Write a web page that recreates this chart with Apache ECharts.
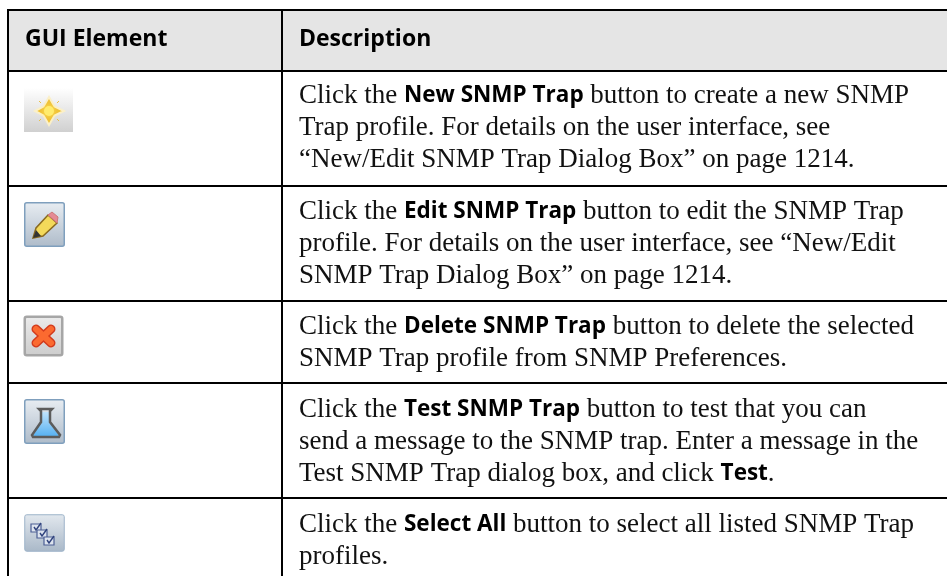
<!DOCTYPE html>
<html>
<head>
<meta charset="utf-8">
<style>html,body{margin:0;background:#fff}#main{width:947px;height:576px}</style>
<script src="https://cdn.jsdelivr.net/npm/echarts@6/dist/echarts.min.js"></script>
</head>
<body>
<div id="main"></div>
<script>
var headers = ['GUI Element', 'Description'];
var rowLines = [
	['Click the **New SNMP Trap** button to create a new SNMP', 'Trap profile. For details on the user interface, see', '“New/Edit SNMP Trap Dialog Box” on page 1214.'],
	['Click the **Edit SNMP Trap** button to edit the SNMP Trap', 'profile. For details on the user interface, see “New/Edit', 'SNMP Trap Dialog Box” on page 1214.'],
	['Click the **Delete SNMP Trap** button to delete the selected', 'SNMP Trap profile from SNMP Preferences.'],
	['Click the **Test SNMP Trap** button to test that you can', 'send a message to the SNMP trap. Enter a message in the', 'Test SNMP Trap dialog box, and click **Test**.'],
	['Click the **Select All** button to select all listed SNMP Trap', 'profiles.']
];
var rowLineY = [71, 186, 301, 383, 498];
var firstTextY = [96, 212, 327, 410, 525];

var els = [];
function line(x1, y1, x2, y2) {
	els.push({type: 'line', shape: {x1: x1, y1: y1, x2: x2, y2: y2}, style: {stroke: '#000', lineWidth: 2}, z: 5});
}
function grad(a, b) {
	return new echarts.graphic.LinearGradient(0, 0, 0, 1, [{offset: 0, color: a}, {offset: 1, color: b}]);
}
function richLine(s) {
	return s.split('**').map(function(p, i) {
		if (!p) return '';
		return (i % 2 ? '{b|' : '{r|') + p + '}';
	}).join('');
}

// header band
els.push({type: 'rect', shape: {x: 8, y: 10, width: 939, height: 60}, style: {fill: '#e5e5e5'}});
line(8, 10, 947, 10);
rowLineY.forEach(function(y) { line(8, y, 947, y); });
line(8, 9, 8, 576);
line(282, 9, 282, 576);

els.push({type: 'text', x: 25, y: 39, style: {text: headers[0], font: 'bold 23px "Open Sans"', fill: '#000', verticalAlign: 'middle'}, z: 6});
els.push({type: 'text', x: 299, y: 39, style: {text: headers[1], font: 'bold 23px "Open Sans"', fill: '#000', verticalAlign: 'middle'}, z: 6});

rowLines.forEach(function(lines, r) {
	lines.forEach(function(s, i) {
		els.push({
			type: 'text', x: 299, y: firstTextY[r] + i * 32,
			style: {
				text: richLine(s), verticalAlign: 'middle',
				rich: {
					r: {font: '27px "Liberation Serif"', fill: '#111'},
					b: {font: 'bold 22.5px "Open Sans"', fill: '#000'}
				}
			}, z: 6
		});
	});
});

// icons
function button(x, y, w, h, border, top, bottom, lw) {
	els.push({type: 'rect', shape: {x: x + 0.75, y: y + 0.75, width: w - 1.5, height: h - 1.5, r: 2}, style: {fill: grad(top, bottom), stroke: border, lineWidth: lw || 1.5}});
}
// new: sparkle
els.push({type: 'rect', shape: {x: 24, y: 88, width: 49, height: 44}, style: {fill: grad('#ffffff', '#d0d0d0')}});
els.push({type: 'polygon', shape: {points: [[49, 97], [54.5, 106.5], [64, 111], [54.5, 115.5], [49, 125], [43.5, 115.5], [35, 111], [43.5, 106.5]]},
	style: {fill: '#f0c236', stroke: '#fbf0c8', lineWidth: 2}});
els.push({type: 'circle', shape: {cx: 49, cy: 111, r: 5}, style: {fill: '#ffec6e', shadowBlur: 4, shadowColor: '#ffe25a'}});
[[39, 101, 41, 103], [59, 101, 57, 103], [39, 121, 41, 119], [59, 121, 57, 119]].forEach(function(p) {
	els.push({type: 'line', shape: {x1: p[0], y1: p[1], x2: p[2], y2: p[3]}, style: {stroke: '#e8c048', lineWidth: 1}});
});
// edit: pencil
button(24, 202, 41, 45, '#7f9fbd', '#e8edf2', '#aebbc9');
els.push({type: 'polygon', shape: {points: [[48, 215], [57, 223], [43, 236], [33, 238], [36, 228]]}, style: {fill: '#f3d95a', stroke: '#8a6a20', lineWidth: 1.5}});
els.push({type: 'polygon', shape: {points: [[36, 230], [41, 236], [33, 238]]}, style: {fill: '#333'}});
els.push({type: 'polygon', shape: {points: [[48, 215], [52, 212], [58, 217], [57, 223]]}, style: {fill: '#e58a95', stroke: '#c77', lineWidth: 1}});
// delete: x
button(24, 316, 39, 40, '#a6a6a6', '#ececec', '#cccccc', 2.5);
[['#d23a1c', 9], ['#fb6a30', 6]].forEach(function(s) {
	els.push({type: 'line', shape: {x1: 36, y1: 329, x2: 51, y2: 343}, style: {stroke: s[0], lineWidth: s[1], lineCap: 'round'}});
	els.push({type: 'line', shape: {x1: 51, y1: 329, x2: 36, y2: 343}, style: {stroke: s[0], lineWidth: s[1], lineCap: 'round'}});
});
// test: flask
button(24, 399, 41, 45, '#7f9fbd', '#e8edf2', '#aebbc9');
els.push({type: 'polygon', shape: {points: [[41, 412], [50, 412], [50, 422], [59, 436], [33, 436], [41, 422]]}, style: {fill: grad('#bfe2fb', '#58b2f2')}});
els.push({type: 'polygon', shape: {points: [[39, 409], [52, 409], [50, 411], [50, 422], [60, 435], [59, 437], [33, 437], [32, 435], [41, 422], [41, 411]]}, style: {stroke: '#5c5c5c', lineWidth: 2.5, fill: null}});
// select all: three checkboxes
button(24, 514, 41, 38, '#9db3c9', '#e2e8ee', '#a9b8c8', 1);
[[31, 524], [37, 530], [44, 537]].forEach(function(p) {
	els.push({type: 'rect', shape: {x: p[0], y: p[1], width: 10, height: 8}, style: {fill: '#dde4ee', stroke: '#4c5f94', lineWidth: 1.2}});
	els.push({type: 'polyline', shape: {points: [[p[0] + 3, p[1] + 3], [p[0] + 5, p[1] + 6], [p[0] + 10, p[1] - 1]]}, style: {stroke: '#30437d', lineWidth: 1.4, fill: null}});
});

var chart = echarts.init(document.getElementById('main'));
chart.setOption({backgroundColor: '#fff', animation: false, graphic: {elements: els}});
</script>
</body>
</html>
